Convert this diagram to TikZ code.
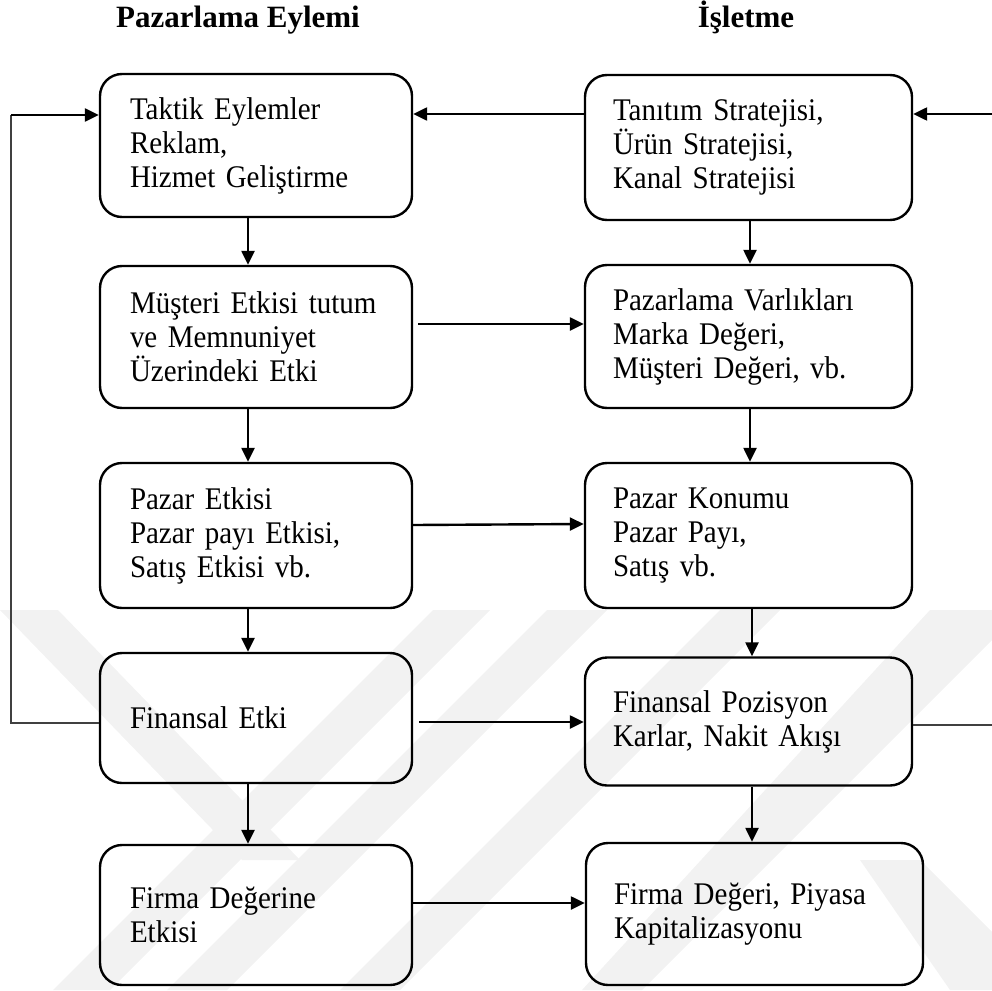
\documentclass[tikz,border=0pt]{standalone}
\usepackage{fontspec}
\setmainfont{Liberation Serif}
\newfontfamily\bodyfont{Liberation Serif}[FakeStretch=0.92]
\usetikzlibrary{arrows.meta}
\begin{document}
\begin{tikzpicture}[x=1pt,y=-1pt,
  boxbase/.style={draw, line width=2.4pt, rounded corners=22pt, align=left,
    inner ysep=0pt, font=\bodyfont\fontsize{31.5}{34}\selectfont},
  lbox/.style={boxbase, text width=252pt, inner xsep=30pt, minimum height=#1},
  rbox/.style={boxbase, text width=271pt, inner xsep=28pt, minimum height=#1},
  widebox/.style={boxbase, text width=281pt, inner xsep=28pt, minimum height=#1},
  arr/.style={line width=2.4pt, -{Triangle[length=14pt,width=13pt]}},
  thinline/.style={line width=1.3pt, draw=black!75},
  head/.style={font=\bfseries\fontsize{31}{36}\selectfont, anchor=base},
  wmband/.style={fill=black!5, draw=none}
]
\useasboundingbox (0,0) rectangle (992,990);

% faint diagonal background bands
\begin{scope}
  \clip (0,608) rectangle (992,990);
  \fill[wmband] (0,610) -- (58,610) -- (300,860) -- (242,860) -- cycle;
  \fill[wmband] (433,610) -- (490,610) -- (110,990) -- (53,990) -- cycle;
  \fill[wmband] (547,610) -- (607,610) -- (227,990) -- (167,990) -- cycle;
  \fill[wmband] (720,610) -- (780,610) -- (400,990) -- (340,990) -- cycle;
  \fill[wmband] (930,610) -- (992,610) -- (992,640) -- (642,990) -- (582,990) -- cycle;
  \fill[wmband] (860,860) -- (920,860) -- (992,932) -- (992,990) -- (950,990) -- cycle;
\end{scope}

% column headings
\node[head] (h1) at (238,28) {Pazarlama Eylemi};
\node[head] (h2) at (746,28) {İşletme};

% left column
\node[lbox=143pt] (L1) at (256,145.5) {Taktik Eylemler\\Reklam,\\Hizmet Geliştirme};
\node[lbox=142pt] (L2) at (256,337) {Müşteri Etkisi tutum\\ve Memnuniyet\\Üzerindeki Etki};
\node[lbox=145pt] (L3) at (256,535.5) {Pazar Etkisi\\Pazar payı Etkisi,\\Satış Etkisi vb.};
\node[lbox=130pt] (L4) at (256,718) {Finansal Etki};
\node[lbox=140pt] (L5) at (256,915) {Firma Değerine\\Etkisi};

% right column
\node[rbox=145pt] (R1) at (748.5,147.5) {Tanıtım Stratejisi,\\Ürün Stratejisi,\\Kanal Stratejisi};
\node[rbox=143pt] (R2) at (748.5,336.5) {Pazarlama Varlıkları\\Marka Değeri,\\Müşteri Değeri, vb.};
\node[rbox=145pt] (R3) at (748.5,535.5) {Pazar Konumu\\Pazar Payı,\\Satış vb.};
\node[rbox=128pt] (R4) at (748.5,721.5) {Finansal Pozisyon\\Karlar, Nakit Akışı};
\node[widebox=142pt] (R5) at (754.5,914) {Firma Değeri, Piyasa\\Kapitalizasyonu};

% helper points for the outer feedback lines
\coordinate (inR) at (992,114);
\coordinate (loopTop) at (11,115);
\coordinate (loopBot) at (11,723);
\coordinate (outR) at (992,725);

% strategy feeds tactics
\draw[arr] (R1.west |- inR) -- (L1.east |- inR);
\draw[arr] (inR) -- (R1.east |- inR);

% feedback from financial impact to tactics
\draw[thinline] (L4.west |- loopBot) -- (loopBot) -- (loopTop);
\draw[arr] (loopTop) -- (L1.west |- loopTop);

% feedback from financial position
\draw[thinline] (R4.east |- outR) -- (outR);

% vertical flow, left column
\draw[arr] (L1.south -| 248,0) -- (L2.north -| 248,0);
\draw[arr] (L2.south -| 248,0) -- (L3.north -| 248,0);
\draw[arr] (L3.south -| 248,0) -- (L4.north -| 248,0);
\draw[arr] (L4.south -| 248,0) -- (L5.north -| 248,0);

% vertical flow, right column
\draw[arr] (R1.south -| 750,0) -- (R2.north -| 750,0);
\draw[arr] (R2.south -| 750,0) -- (R3.north -| 750,0);
\draw[arr] (R3.south -| 752,0) -- (R4.north -| 752,0);
\draw[arr] (R4.south -| 752,0) -- (R5.north -| 752,0);

% horizontal flow between columns
\draw[arr] ([xshift=5pt]L2.east |- 0,324) -- (R2.west |- 0,324);
\draw[arr] (L3.east |- 0,525) -- (R3.west |- 0,524);
\draw[arr] ([xshift=6pt]L4.east |- 0,722) -- (R4.west |- 0,722);
\draw[arr] (L5.east |- 0,903) -- (R5.west |- 0,903);
\end{tikzpicture}
\end{document}
